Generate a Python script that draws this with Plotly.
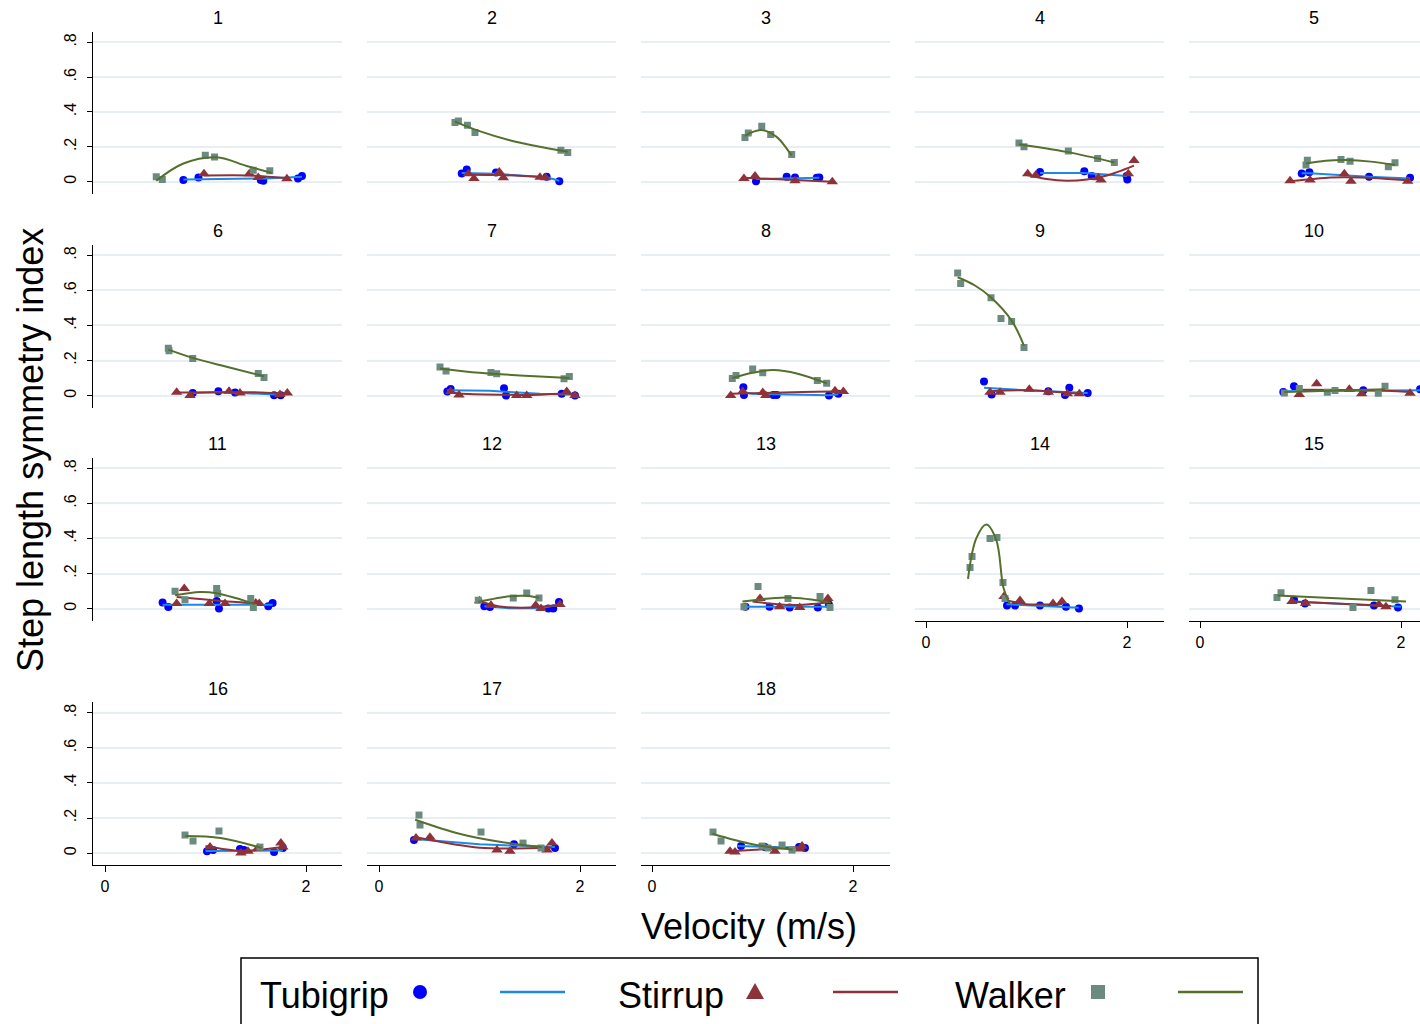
import plotly.graph_objects as go

panels = list(range(1, 19))

# ---------------- data ----------------
tub_x = {1: [0.78, 0.93, 1.55, 1.575, 1.92, 1.96], 2: [0.823, 0.873, 1.164, 1.668, 1.794],
         3: [1.035, 1.34, 1.423, 1.639, 1.665], 4: [1.134, 1.575, 1.649, 1.997, 2.003],
         5: [1.012, 1.088, 1.682, 2.09], 6: [0.873, 1.128, 1.294, 1.682, 1.748],
         7: [0.68, 0.713, 1.244, 1.264, 1.818, 1.95], 8: [0.909, 0.915, 1.207, 1.24, 1.761, 1.854],
         9: [0.577, 0.653, 1.217, 1.383, 1.426, 1.609], 10: [0.829, 0.935, 1.625, 2.19],
         11: [0.573, 0.63, 1.111, 1.134, 1.625, 1.668], 12: [1.048, 1.104, 1.685, 1.734, 1.791],
         13: [0.93, 1.17, 1.37, 1.65, 1.76], 14: [0.806, 0.886, 1.134, 1.393, 1.522],
         15: [0.935, 1.045, 1.731, 1.97], 16: [1.015, 1.075, 1.343, 1.383, 1.682, 1.77],
         17: [0.348, 1.343, 1.751], 18: [0.886, 1.124, 1.463, 1.522]}
tub_y = {1: [0.009, 0.024, 0.009, 0.005, 0.018, 0.032], 2: [0.047, 0.07, 0.053, 0.028, 0.003],
         3: [0.003, 0.028, 0.024, 0.022, 0.024], 4: [0.056, 0.06, 0.033, 0.032, 0.013],
         5: [0.047, 0.054, 0.028, 0.022], 6: [0.015, 0.025, 0.017, 0.002, 0.002],
         7: [0.023, 0.038, 0.042, 0.0, 0.01, 0.0], 8: [0.047, 0.004, 0.004, 0.004, 0.0, 0.01],
         9: [0.08, 0.006, 0.025, 0.004, 0.044, 0.015], 10: [0.02, 0.053, 0.03, 0.036],
         11: [0.034, 0.009, 0.043, 0.0, 0.013, 0.032], 12: [0.013, 0.009, 0.0, 0.0, 0.038],
         13: [0.01, 0.01, 0.006, 0.006, 0.023], 14: [0.017, 0.017, 0.017, 0.011, 0.0],
         15: [0.051, 0.029, 0.017, 0.006], 16: [0.011, 0.017, 0.023, 0.017, 0.006, 0.029],
         17: [0.074, 0.051, 0.029], 18: [0.04, 0.034, 0.034, 0.029]}
tub_fit_x = {1: [0.78, 1.2, 1.6, 1.96], 2: [0.823, 1.164, 1.668, 1.794], 3: [1.035, 1.665],
             4: [1.134, 1.575, 2.0], 5: [1.012, 1.088, 1.682, 2.09], 6: [0.873, 1.13, 1.748],
             7: [0.68, 1.1, 1.3, 1.6, 1.95], 8: [0.909, 1.0, 1.761, 1.854], 9: [0.577, 1.0, 1.609],
             10: [0.829, 2.19], 11: [0.573, 1.668], 12: [1.048, 1.3, 1.6, 1.791],
             13: [0.93, 1.76], 14: [0.8, 1.52], 15: [0.93, 2.0], 16: [1.0, 1.77],
             17: [0.35, 1.0, 1.75], 18: [0.85, 1.52]}
tub_fit_y = {1: [0.013, 0.016, 0.018, 0.028], 2: [0.05, 0.045, 0.025, 0.005], 3: [0.015, 0.022],
             4: [0.05, 0.05, 0.033], 5: [0.048, 0.048, 0.028, 0.018], 6: [0.015, 0.02, 0.005],
             7: [0.03, 0.028, 0.02, 0.01, 0.005], 8: [0.02, 0.01, 0.002, 0.008], 9: [0.045, 0.03, 0.015],
             10: [0.025, 0.03], 11: [0.022, 0.022], 12: [0.013, 0.002, 0.002, 0.022],
             13: [0.01, 0.01], 14: [0.025, 0.005], 15: [0.04, 0.01], 16: [0.012, 0.015],
             17: [0.08, 0.05, 0.035], 18: [0.04, 0.03]}

sti_x = {1: [0.985, 1.436, 1.525, 1.81], 2: [0.889, 0.945, 1.197, 1.237, 1.602, 1.658],
         3: [0.915, 1.025, 1.423, 1.794], 4: [1.012, 1.091, 1.714, 1.741, 2.013, 2.07],
         5: [0.896, 1.095, 1.436, 1.502, 2.067], 6: [0.713, 0.846, 1.234, 1.343, 1.741, 1.814],
         7: [0.713, 0.796, 1.37, 1.47, 1.868, 1.95], 8: [0.783, 0.902, 1.102, 1.132, 1.821, 1.904],
         9: [0.637, 0.736, 1.028, 1.217, 1.406, 1.526], 10: [0.988, 1.161, 1.486, 1.609, 2.09],
         11: [0.713, 0.789, 1.038, 1.194, 1.5, 1.535], 12: [1.0, 1.114, 1.559, 1.612, 1.801],
         13: [1.075, 1.27, 1.47, 1.75], 14: [0.776, 0.935, 1.264, 1.353],
         15: [0.915, 1.05, 1.78, 1.85], 16: [1.045, 1.353, 1.423, 1.522, 1.75, 1.77],
         17: [0.368, 0.507, 1.174, 1.303, 1.672, 1.721], 18: [0.776, 0.826, 1.224, 1.473, 1.493]}
sti_y = {1: [0.045, 0.045, 0.024, 0.016], 2: [0.045, 0.018, 0.056, 0.022, 0.026, 0.022],
         3: [0.018, 0.032, 0.005, 0.0], 4: [0.045, 0.037, 0.022, 0.009, 0.045, 0.121],
         5: [0.005, 0.009, 0.045, 0.003, 0.003], 6: [0.019, 0.0, 0.025, 0.015, 0.006, 0.015],
         7: [0.023, 0.004, 0.0, 0.0, 0.023, 0.0], 8: [0.0, 0.023, 0.017, 0.0, 0.028, 0.023],
         9: [0.019, 0.019, 0.036, 0.019, 0.01, 0.01], 10: [0.006, 0.067, 0.036, 0.01, 0.013],
         11: [0.029, 0.114, 0.029, 0.029, 0.032, 0.029], 12: [0.045, 0.019, 0.019, 0.0, 0.023],
         13: [0.057, 0.011, 0.006, 0.057], 14: [0.069, 0.046, 0.029, 0.04],
         15: [0.04, 0.03, 0.023, 0.011], 16: [0.034, 0.0, 0.011, 0.029, 0.057, 0.034],
         17: [0.086, 0.091, 0.017, 0.011, 0.017, 0.057], 18: [0.011, 0.006, 0.011, 0.023, 0.04]}
sti_fit_x = {1: [0.985, 1.44, 1.81], 2: [0.889, 1.2, 1.658], 3: [0.915, 1.794],
             4: [0.99, 1.2, 1.4, 1.6, 1.8, 2.07], 5: [0.9, 1.3, 1.6, 2.07], 6: [0.713, 1.55, 1.814],
             7: [0.713, 0.8, 1.2, 1.6, 1.87, 1.95], 8: [0.783, 1.1, 1.5, 1.904], 9: [0.637, 1.0, 1.526],
             10: [0.988, 1.7, 2.09], 11: [0.713, 1.0, 1.19, 1.535], 12: [1.0, 1.2, 1.5, 1.8],
             13: [1.0, 1.4, 1.75], 14: [0.776, 1.0, 1.353], 15: [0.9, 1.9], 16: [1.0, 1.35, 1.77],
             17: [0.37, 1.0, 1.72], 18: [0.78, 1.49]}
sti_fit_y = {1: [0.035, 0.035, 0.02], 2: [0.04, 0.038, 0.026], 3: [0.022, 0.0],
             4: [0.04, 0.015, 0.005, 0.012, 0.035, 0.092], 5: [0.003, 0.024, 0.024, 0.008],
             6: [0.018, 0.018, 0.008], 7: [0.02, 0.012, 0.005, 0.005, 0.012, 0.005],
             8: [0.01, 0.015, 0.02, 0.025], 9: [0.025, 0.03, 0.01], 10: [0.033, 0.03, 0.02],
             11: [0.066, 0.052, 0.042, 0.029], 12: [0.04, 0.012, 0.006, 0.022],
             13: [0.04, 0.02, 0.035], 14: [0.05, 0.025, 0.025], 15: [0.04, 0.015],
             16: [0.04, 0.012, 0.035], 17: [0.09, 0.03, 0.03], 18: [0.01, 0.035]}

wal_x = {1: [0.51, 0.57, 0.998, 1.09, 1.475, 1.64], 2: [0.756, 0.79, 0.88, 0.955, 1.81, 1.878],
         3: [0.925, 0.958, 1.092, 1.181, 1.39], 4: [0.925, 0.975, 1.416, 1.708, 1.874],
         5: [1.055, 1.068, 1.403, 1.493, 1.874, 1.94], 6: [0.63, 0.637, 0.873, 1.525, 1.582],
         7: [0.607, 0.667, 1.114, 1.171, 1.841, 1.894], 8: [0.799, 0.836, 1.002, 1.102, 1.645, 1.738],
         9: [0.315, 0.345, 0.647, 0.746, 0.852, 0.975], 10: [0.839, 0.988, 1.267, 1.343, 1.774, 1.841],
         11: [0.697, 0.796, 1.111, 1.121, 1.45, 1.476], 12: [0.988, 1.336, 1.47, 1.592],
         13: [0.915, 1.055, 1.353, 1.672, 1.771], 14: [0.438, 0.458, 0.637, 0.706, 0.766, 0.786],
         15: [0.766, 0.806, 1.522, 1.701, 1.94], 16: [0.796, 0.876, 1.134, 1.542],
         17: [0.398, 0.408, 1.015, 1.433, 1.612], 18: [0.607, 0.687, 1.095, 1.154, 1.294, 1.393]}
wal_y = {1: [0.028, 0.013, 0.152, 0.142, 0.066, 0.062], 2: [0.339, 0.348, 0.324, 0.282, 0.18, 0.167],
         3: [0.253, 0.28, 0.318, 0.27, 0.156], 4: [0.222, 0.2, 0.176, 0.133, 0.11],
         5: [0.095, 0.123, 0.127, 0.117, 0.085, 0.108], 6: [0.27, 0.256, 0.212, 0.126, 0.103],
         7: [0.163, 0.14, 0.131, 0.125, 0.096, 0.109], 8: [0.098, 0.114, 0.152, 0.13, 0.086, 0.07],
         9: [0.699, 0.64, 0.558, 0.44, 0.423, 0.275], 10: [0.015, 0.041, 0.019, 0.029, 0.013, 0.053],
         11: [0.099, 0.051, 0.114, 0.086, 0.057, 0.006], 12: [0.047, 0.061, 0.089, 0.061],
         13: [0.011, 0.126, 0.057, 0.069, 0.006], 14: [0.234, 0.297, 0.4, 0.406, 0.149, 0.057],
         15: [0.063, 0.091, 0.006, 0.103, 0.051], 16: [0.103, 0.069, 0.126, 0.034],
         17: [0.217, 0.16, 0.12, 0.057, 0.029], 18: [0.12, 0.069, 0.04, 0.029, 0.046, 0.017]}
wal_fit_x = {1: [0.51, 0.78, 1.11, 1.41, 1.66], 2: [0.756, 1.0, 1.3, 1.6, 1.878],
             3: [0.925, 1.0, 1.09, 1.24, 1.34, 1.39], 4: [0.925, 1.4, 1.874],
             5: [1.055, 1.25, 1.45, 1.7, 1.94], 6: [0.63, 0.873, 1.21, 1.582],
             7: [0.607, 1.0, 1.4, 1.894], 8: [0.8, 1.0, 1.206, 1.45, 1.738],
             9: [0.315, 0.487, 0.647, 0.852, 0.975], 10: [0.839, 1.841],
             11: [0.697, 0.946, 1.11, 1.3, 1.49], 12: [0.988, 1.3, 1.45, 1.592],
             13: [0.9, 1.35, 1.78], 14: [0.418, 0.5, 0.6, 0.7, 0.77, 0.83],
             15: [0.77, 2.05], 16: [0.8, 1.15, 1.56], 17: [0.36, 0.8, 1.2, 1.62], 18: [0.6, 1.0, 1.4]}
wal_fit_y = {1: [0.005, 0.104, 0.14, 0.09, 0.05], 2: [0.345, 0.29, 0.238, 0.2, 0.172],
             3: [0.262, 0.285, 0.297, 0.257, 0.19, 0.15], 4: [0.215, 0.171, 0.11],
             5: [0.104, 0.12, 0.124, 0.115, 0.095], 6: [0.262, 0.215, 0.164, 0.11],
             7: [0.155, 0.13, 0.115, 0.1], 8: [0.1, 0.13, 0.146, 0.125, 0.07],
             9: [0.675, 0.628, 0.56, 0.428, 0.285], 10: [0.02, 0.036],
             11: [0.076, 0.095, 0.088, 0.06, 0.025], 12: [0.038, 0.07, 0.073, 0.062],
             13: [0.04, 0.063, 0.034], 14: [0.17, 0.4, 0.48, 0.39, 0.12, 0.03],
             15: [0.074, 0.04], 16: [0.097, 0.086, 0.029], 17: [0.19, 0.11, 0.065, 0.035],
             18: [0.11, 0.05, 0.02]}

y_tickvals = [0, 0.2, 0.4, 0.6, 0.8]
y_ticktext = ["0", ".2", ".4", ".6", ".8"]
x_tickvals = [0, 2]
x_ticktext = ["0", "2"]
series_names = ["Tubigrip", "Stirrup", "Walker"]

# ---------------- styling ----------------
W, H = 1420, 1024
FONT = "Liberation Sans, Arial, sans-serif"
C_TUB_M, C_TUB_L = "#0000FF", "#1E88E8"
C_STI_M, C_STI_L = "#8E323A", "#8E323A"
C_WAL_M, C_WAL_L = "#6C8B80", "#55702C"
GRID = "#E8EFF2"

col_left = [93, 367, 641, 915, 1189]
col_zero = [105, 379, 652, 926, 1200]
row_top = [31.5, 244.5, 457.5, 702]
row_bot = [193.5, 407.5, 620.5, 865]
title_y = [18, 231, 444, 689]
PX_PER_X = 100.5
PW = 249
y_range = [-0.068, 0.862]


def px(x):
    return x / W


def py(y):
    return 1 - y / H


bottom_panels = {14, 15, 16, 17, 18}

fig = go.Figure()
annotations = []
for p in panels:
    i = p - 1
    r, c = divmod(i, 5)
    left = col_left[c]
    right = min(left + PW, W)
    xr = [(left - col_zero[c]) / PX_PER_X, (right - col_zero[c]) / PX_PER_X]
    sfx = "" if p == 1 else str(p)
    xa = dict(domain=[px(left), px(right)], range=xr, anchor="y" + sfx,
              showgrid=False, zeroline=False, fixedrange=True)
    if p in bottom_panels:
        xa.update(showline=True, linecolor="black", linewidth=1, ticks="outside",
                  ticklen=6, tickcolor="black", tickvals=x_tickvals, ticktext=x_ticktext,
                  showticklabels=True, tickfont=dict(size=16, color="black", family=FONT),
                  ticklabelstandoff=1)
    else:
        xa.update(showline=False, showticklabels=False, ticks="")
    ya = dict(domain=[py(row_bot[r]), py(row_top[r])], range=y_range, anchor="x" + sfx,
              showgrid=True, gridcolor=GRID, gridwidth=1.6, zeroline=False,
              tickvals=y_tickvals, fixedrange=True)
    if c == 0:
        ya.update(showline=True, linecolor="black", linewidth=1, ticks="outside", ticklen=5,
                  tickcolor="black", ticktext=y_ticktext, showticklabels=True, tickangle=-90,
                  tickfont=dict(size=16, color="black", family=FONT), ticklabelstandoff=5)
    else:
        ya.update(showline=False, showticklabels=False, ticks="")
    fig.update_layout(**{"xaxis" + sfx: xa, "yaxis" + sfx: ya})

    ax = dict(xaxis="x" + sfx, yaxis="y" + sfx, showlegend=False, hoverinfo="skip")
    fig.add_trace(go.Scatter(x=tub_x[p], y=tub_y[p], mode="markers",
                             marker=dict(symbol="circle", size=8, color=C_TUB_M), **ax))
    fig.add_trace(go.Scatter(x=tub_fit_x[p], y=tub_fit_y[p], mode="lines",
                             line=dict(color=C_TUB_L, width=2), **ax))
    fig.add_trace(go.Scatter(x=sti_x[p], y=sti_y[p], mode="markers",
                             marker=dict(symbol="triangle-up", size=10, color=C_STI_M), **ax))
    fig.add_trace(go.Scatter(x=sti_fit_x[p], y=sti_fit_y[p], mode="lines",
                             line=dict(color=C_STI_L, width=2, shape="spline", smoothing=0.8), **ax))
    fig.add_trace(go.Scatter(x=wal_x[p], y=wal_y[p], mode="markers",
                             marker=dict(symbol="square", size=7, color=C_WAL_M), **ax))
    fig.add_trace(go.Scatter(x=wal_fit_x[p], y=wal_fit_y[p], mode="lines",
                             line=dict(color=C_WAL_L, width=2, shape="spline", smoothing=1.0), **ax))

    annotations.append(dict(text=str(p), x=px(left + PW / 2), y=py(title_y[r]), xref="paper",
                            yref="paper", showarrow=False, xanchor="center", yanchor="middle",
                            font=dict(size=18, color="black", family=FONT)))

# axis titles
annotations.append(dict(text="Step length symmetry index", x=px(30), y=py(450), xref="paper",
                        yref="paper", showarrow=False, textangle=-90, xanchor="center",
                        yanchor="middle", font=dict(size=36, color="black", family=FONT)))
annotations.append(dict(text="Velocity (m/s)", x=px(749), y=py(926), xref="paper", yref="paper",
                        showarrow=False, xanchor="center", yanchor="middle",
                        font=dict(size=36, color="black", family=FONT)))

# legend (manual, Stata style)
shapes = []
shapes.append(dict(type="rect", xref="paper", yref="paper", x0=px(241), x1=px(1258),
                   y0=py(1040), y1=py(958), line=dict(color="black", width=1.5),
                   fillcolor="white", layer="below"))
leg_text_x = [258, 616, 953]
leg_mark_x = [420, 755, 1098]
leg_line_x = [500, 833, 1178]
leg_cy = 992
for k, name in enumerate(series_names):
    annotations.append(dict(text=name, x=px(leg_text_x[k]), y=py(995), xref="paper", yref="paper",
                            showarrow=False, xanchor="left", yanchor="middle",
                            font=dict(size=36, color="black", family=FONT)))
    lx = leg_line_x[k]
    col_l = [C_TUB_L, C_STI_L, C_WAL_L][k]
    shapes.append(dict(type="line", xref="paper", yref="paper", x0=px(lx), x1=px(lx + 65),
                       y0=py(leg_cy), y1=py(leg_cy), line=dict(color=col_l, width=2.5)))
mx = leg_mark_x[0]
shapes.append(dict(type="circle", xref="paper", yref="paper", x0=px(mx - 7), x1=px(mx + 7),
                   y0=py(leg_cy + 7), y1=py(leg_cy - 7), fillcolor=C_TUB_M, line=dict(width=0)))
mx = leg_mark_x[1]
shapes.append(dict(type="path", xref="paper", yref="paper",
                   path=f"M {px(mx-9)},{py(leg_cy+7)} L {px(mx+9)},{py(leg_cy+7)} L {px(mx)},{py(leg_cy-9)} Z",
                   fillcolor=C_STI_M, line=dict(width=0)))
mx = leg_mark_x[2]
shapes.append(dict(type="rect", xref="paper", yref="paper", x0=px(mx - 7), x1=px(mx + 7),
                   y0=py(leg_cy + 7), y1=py(leg_cy - 7), fillcolor=C_WAL_M, line=dict(width=0)))

fig.update_layout(width=W, height=H, margin=dict(l=0, r=0, t=0, b=0),
                  paper_bgcolor="white", plot_bgcolor="white", annotations=annotations,
                  shapes=shapes, font=dict(family=FONT, color="black"), showlegend=False)

fig.write_html("out.html", config={"displayModeBar": False})
